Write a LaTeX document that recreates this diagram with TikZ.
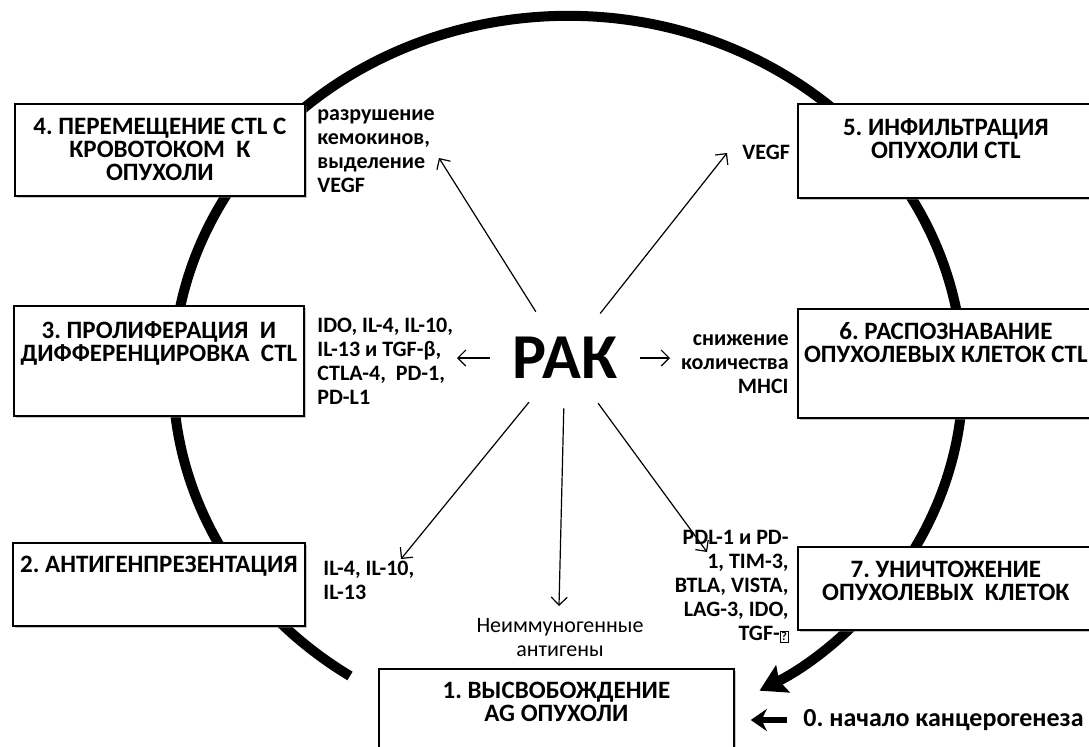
\documentclass[tikz,border=0pt]{standalone}
\usepackage{fontspec}
\setmainfont{Carlito}
\frenchspacing
\usetikzlibrary{arrows.meta,positioning,shapes.geometric,shadows}
\newcommand{\qbox}{{\fboxsep=0.4pt\fboxrule=0.4pt\fbox{\fontsize{6}{6}\selectfont ?}}}
\tikzset{
  >={Straight Barb[length=4pt,width=8pt]},
  stage/.style={draw=black,fill=white,line width=0.9pt,anchor=north west,inner sep=0pt,
    drop shadow={shadow xshift=0.8pt,shadow yshift=-0.8pt,opacity=0.45}},
  stage text/.style={anchor=north,align=center,inner sep=0pt,
    font=\fontsize{12.5}{11.5}\selectfont\bfseries},
  tag/.style={inner sep=0pt,font=\fontsize{11}{12}\selectfont\bfseries},
  flow/.style={->,line width=0.6pt},
  ring/.style={line width=5pt,-{Stealth[length=13pt,width=15pt,inset=2pt]}},
  kick/.style={line width=3pt,-{Stealth[length=8pt,width=11pt]}},
}
\begin{document}
\begin{tikzpicture}[x=0.5pt,y=-0.5pt]
\useasboundingbox (0,0) rectangle (1089,746);
% cycle behind the stages
\draw[ring] (350,676) arc[start angle=123.5,end angle=421,x radius=395,y radius=360];

% stages
\node[stage,minimum width=145pt,minimum height=46pt] (s4) at (14,103) {};
\node[stage,minimum width=145pt,minimum height=55pt] (s3) at (13,305) {};
\node[stage,minimum width=146pt,minimum height=41.5pt] (s2) at (12,542) {};
\node[stage,minimum width=148pt,minimum height=47pt] (s5) at (797,103) {};
\node[stage,minimum width=148pt,minimum height=54.5pt] (s6) at (797,308) {};
\node[stage,minimum width=148pt,minimum height=41.5pt] (s7) at (797,546) {};
\node[stage,minimum width=177.5pt,minimum height=50pt] (s1) at (378,668) {};

\node[stage text,below=7.5pt of s4.north] (s4t) {4. ПЕРЕМЕЩЕНИЕ CTL C\\КРОВОТОКОМ\ \ К\\ОПУХОЛИ};
\node[stage text,below=8pt of s3.north] (s3t) {3. ПРОЛИФЕРАЦИЯ\ \ И\\ДИФФЕРЕНЦИРОВКА\ \ CTL};
\node[stage text,below=7pt of s2.north] (s2t) {2. АНТИГЕНПРЕЗЕНТАЦИЯ};
\node[stage text,below=7.5pt of s5.north] (s5t) {5. ИНФИЛЬТРАЦИЯ\\ОПУХОЛИ CTL};
\node[stage text,below=7pt of s6.north] (s6t) {6. РАСПОЗНАВАНИЕ\\ОПУХОЛЕВЫХ КЛЕТОК CTL};
\node[stage text,below=7.5pt of s7.north] (s7t) {7. УНИЧТОЖЕНИЕ\\ОПУХОЛЕВЫХ\ \ КЛЕТОК};
\node[stage text,below=7pt of s1.north] (s1t) {1. ВЫСВОБОЖДЕНИЕ\\AG ОПУХОЛИ};

% tumour and what it sends out
\node[ellipse,inner sep=0pt,minimum height=50pt,font=\fontsize{32}{32}\selectfont\bfseries] (rak) at (565,358) {РАК};

\node[tag,anchor=north west,align=left] (n4) at (317,109) {разрушение\\кемокинов,\\выделение\\VEGF};
\node[tag,anchor=west] (n5) at (742,152) {VEGF};
\node[tag,anchor=north west,align=left] (n3) at (317,318) {IDO, IL-4, IL-10,\\IL-13 и TGF-β,\\CTLA-4,\ \ PD-1,\\PD-L1};
\node[tag,anchor=north east,align=right] (n6) at (789,334) {снижение\\количества\\MHCI};
\node[tag,anchor=north west,align=left] (n2) at (323,561) {IL-4, IL-10,\\IL-13};
\node[tag,anchor=north,align=center,font=\fontsize{11}{12}\selectfont] (n1) at (560,618) {Неиммуногенные\\антигены};
\node[tag,anchor=north east,align=right] (n7) at (789,530) {PDL-1 и PD-\\1, TIM-3,\\BTLA, VISTA,\\LAG-3, IDO,\\TGF-\qbox};

\coordinate (t4) at (439,158);
\coordinate (t5) at (727,153);
\coordinate (t3) at (457,358);
\coordinate (t6) at (670,358);
\coordinate (t2) at (401,559);
\coordinate (t1) at (559,606);
\coordinate (t7) at (707,552);
\foreach \t in {t1,t2,t3,t4,t5,t6,t7}
  \draw[flow] (rak) -- (\t);

% start of the cycle
\node[anchor=west,inner sep=0pt,font=\fontsize{13}{13}\selectfont\bfseries] (z0) at (803,720) {0. начало канцерогенеза};
\draw[kick,shorten <=8pt,shorten >=8pt] (z0.west) -- (z0.west -| s1.east);
\end{tikzpicture}
\end{document}
